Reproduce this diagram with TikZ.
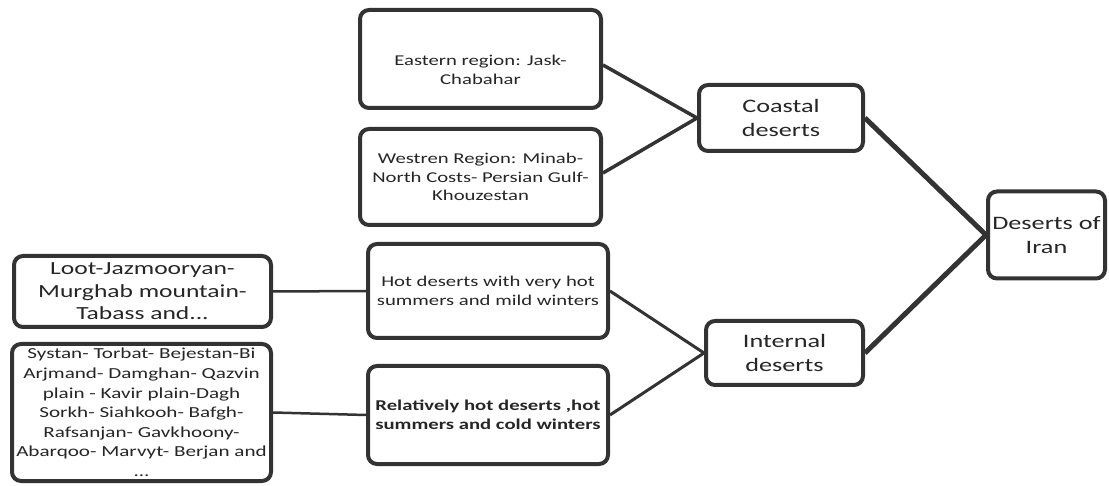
\documentclass[tikz,border=0pt]{standalone}
\usepackage{fontspec}
\setmainfont[FakeStretch=1.38]{Carlito}
\definecolor{ln}{HTML}{333333}
\definecolor{tx}{HTML}{262626}
\tikzset{
  box/.style={draw=ln, line width=4pt, rounded corners=9pt, fill=white,
    inner sep=0pt, align=center, text=tx},
  txt/.style={inner sep=0pt, align=center, text=tx},
  small/.style={font=\fontsize{15}{18.5}\selectfont},
  big/.style={font=\fontsize{19}{23.5}\selectfont},
  conn/.style={draw=ln, line width=#1},
}
\begin{document}
\begin{tikzpicture}[x=1pt,y=1pt]
\useasboundingbox (0,0) rectangle (1109,485);
% boxes
\node[box, minimum width=241pt, minimum height=98pt] (E) at (480.5,426) {};
\node[txt, small] (Et) at ([yshift=-11pt]E.center) {Eastern region: Jask-\\Chabahar};
\node[box, small, minimum width=241pt, minimum height=96pt] (W) at (480.5,308)
  {Westren Region: Minab-\\North Costs- Persian Gulf-\\Khouzestan};
\node[box, big, minimum width=164pt, minimum height=66pt] (C) at (781,367) {Coastal\\deserts};
\node[box, small, minimum width=240pt, minimum height=94pt] (H) at (488,194)
  {Hot deserts with very hot\\summers and mild winters};
\node[box, small, font=\fontsize{15}{18.5}\selectfont\bfseries, minimum width=240pt, minimum height=98pt] (R) at (488,70)
  {Relatively hot deserts ,hot\\summers and cold winters};
\node[box, big, minimum width=157pt, minimum height=64pt] (I) at (784.5,132) {Internal\\deserts};
\node[box, big, minimum width=117pt, minimum height=87pt] (D) at (1046.5,250) {Deserts of\\Iran};
\node[box, font=\fontsize{18.5}{22.5}\selectfont, minimum width=257pt, minimum height=71pt] (L) at (142.5,193.5)
  {Loot-Jazmooryan-\\Murghab mountain-\\Tabass and...};
\node[box, font=\fontsize{15.3}{19.6}\selectfont, minimum width=259pt, minimum height=137pt] (S) at (141.5,72.5)
  {Systan- Torbat- Bejestan-Bi\\Arjmand- Damghan- Qazvin\\plain - Kavir plain-Dagh\\Sorkh- Siahkooh- Bafgh-\\Rafsanjan- Gavkhoony-\\Abarqoo- Marvyt- Berjan and\\...};
% connectors
\draw[conn=3.5pt] ([yshift=-6pt]E.east) -- (C.west);
\draw[conn=3.5pt] ([yshift=4pt]W.east) -- (C.west);
\draw[conn=5pt] (C.east) -- (D.west);
\draw[conn=5pt] (I.east) -- (D.west);
\draw[conn=3pt] (H.east) -- (I.west);
\draw[conn=3pt] (R.east) -- (I.west);
\draw[conn=2.5pt] (L.east) -- (H.west);
\draw[conn=2.5pt] (S.east) -- (R.west);
\end{tikzpicture}
\end{document}
